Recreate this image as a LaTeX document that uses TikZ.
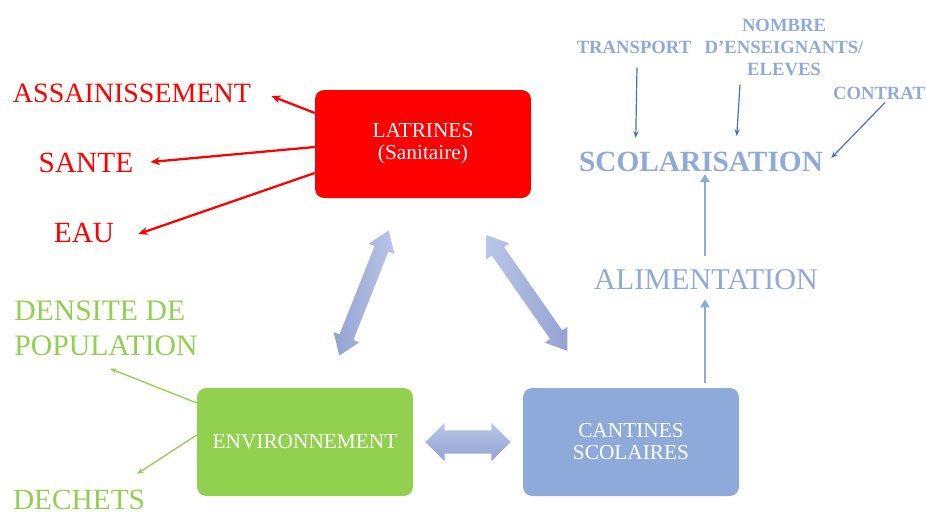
\documentclass[tikz,border=0pt]{standalone}
\usepackage{fontspec}
\setmainfont{Liberation Serif}
\usetikzlibrary{arrows.meta,positioning,calc,shapes.arrows}
\definecolor{latred}{HTML}{FF0000}
\definecolor{envgreen}{HTML}{92D050}
\definecolor{cantblue}{HTML}{8EAADB}
\definecolor{linkblue}{HTML}{4472C4}
\definecolor{dbllight}{HTML}{B9C6E8}
\definecolor{dbldark}{HTML}{93A2D2}

\begin{document}
\begin{tikzpicture}[x=0.75pt, y=-0.75pt,
    box/.style={rectangle, rounded corners=7pt, minimum width=162pt, minimum height=81pt, align=center, text=white, font=\fontsize{16}{16.5}\selectfont},
    big/.style={inner sep=0pt, font=\fontsize{21}{25}\selectfont},
    bigger/.style={inner sep=0pt, font=\fontsize{22}{25}\selectfont},
    small/.style={inner sep=0pt, align=center, text=cantblue, font=\bfseries\fontsize{14}{16.5}\selectfont},
    redarr/.style={draw=latred, line width=1.7pt, -{Stealth[length=7pt,width=6pt]}},
    grnarr/.style={draw=envgreen, line width=1pt, -{Stealth[length=5pt,width=4pt]}},
    lnkarr/.style={draw=linkblue, line width=0.9pt, -{Stealth[length=5pt,width=4pt]}},
    uparr/.style={draw=cantblue, line width=2pt, -{Triangle[length=6pt,width=7pt]}},
    dblarr/.style={double arrow, inner xsep=0pt, inner ysep=5.4pt, minimum width=0pt, double arrow head extend=4.8pt, double arrow tip angle=70}]
  \useasboundingbox (0,0) rectangle (926,514);

  % the three boxes
  \node[box, fill=latred] (lat) at (423,144) {LATRINES\\(Sanitaire)};
  \node[box, fill=envgreen] (env) at (305,442) {ENVIRONNEMENT};
  \node[box, fill=cantblue] (cant) at (631,442) {CANTINES\\SCOLAIRES};

  % labels
  \node[big, text=latred] (assain) at (132,93) {ASSAINISSEMENT};
  \node[bigger, text=latred] (sante) at (86,163) {SANTE};
  \node[bigger, text=latred] (eau) at (84,233) {EAU};
  \node[bigger, text=envgreen, align=left, anchor=west, font=\fontsize{22.3}{26}\selectfont] (dens) at (14,328) {DENSITE DE\\POPULATION};
  \node[bigger, text=envgreen] (dechets) at (79,500) {DECHETS};
  \node[bigger, text=cantblue, font=\bfseries\fontsize{22}{25}\selectfont] (scol) at (701,162) {SCOLARISATION};
  \node[bigger, text=cantblue, font=\fontsize{22.6}{25}\selectfont] (alim) at (706,280) {ALIMENTATION};
  \node[small] (transport) at (634,47) {TRANSPORT};
  \node[small] (nombre) at (784,47) {NOMBRE\\D'ENSEIGNANTS/\\ELEVES};
  \node[small] (contrat) at (879,93) {CONTRAT};

  % arrows
  \draw[redarr] ($(lat.west)+(0,-31)$) -- ($(assain.east)+(20,3)$);
  \draw[redarr] ($(lat.west)+(0,3)$) -- ($(sante.east)+(17,-1)$);
  \draw[redarr] ($(lat.west)+(0,29)$) -- ($(eau.east)+(24,1)$);
  \draw[grnarr] ($(env.west)+(0,-39)$) -- ($(dens.south west)+(96,13)$);
  \draw[grnarr] ($(env.west)+(0,-7)$) -- ($(dechets.north)+(58,-16)$);
  \draw[lnkarr] ($(transport.south)+(3,14)$) -- ($(scol.north west)+(57,-14)$);
  \draw[lnkarr] ($(nombre.south)+(-44,9)$) -- ($(scol.north west)+(158,-16)$);
  \draw[lnkarr] ($(contrat.south)+(6,3)$) -- ($(scol.east)+(8,-4)$);
  \draw[uparr] ($(cant.north)+(74,-5)$) -- ($(alim.south)+(-1,9)$);
  \draw[uparr] ($(alim.north)+(-1,-14)$) -- ($(scol.south)+(4,2)$);

  % big double arrows
  \path (env) -- (lat) node[dblarr, midway, sloped, minimum height=101pt, left color=dbldark, right color=dbllight] (envlat) {};
  \path (lat) -- (cant) node[dblarr, midway, sloped, minimum height=106pt, left color=dbllight, right color=dbldark] (latcant) {};
  \path (env) -- (cant) node[dblarr, midway, minimum height=64pt, inner ysep=8.5pt, double arrow head extend=5.8pt, double arrow tip angle=90, top color=dbllight, bottom color=dbldark] (envcant) {};
\end{tikzpicture}
\end{document}
